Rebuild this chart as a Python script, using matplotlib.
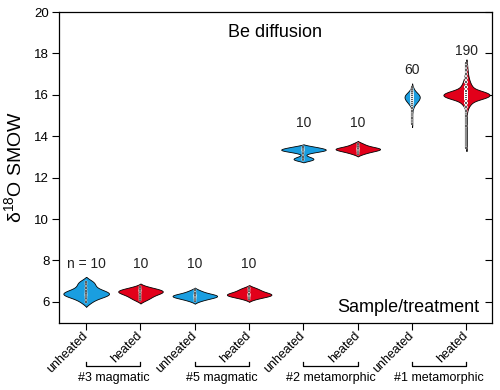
import numpy as np
import matplotlib
matplotlib.use("Agg")
import matplotlib.pyplot as plt
from matplotlib.transforms import ScaledTranslation

plt.rcParams['font.family'] = ['Liberation Sans', 'DejaVu Sans']

# treatment labels along the x axis
tick_labels = ['unheated', 'heated', 'unheated', 'heated',
               'unheated', 'heated', 'unheated', 'heated']
groups = ['#3 magmatic', '#5 magmatic', '#2 metamorphic', '#1 metamorphic']
n_labels = ['n = 10', '10', '10', '10', '10', '10', '60', '190']

# d18O values; the two big samples as (value, count)
m3_unheated = [5.98, 6.2, 6.3, 6.35, 6.4, 6.45, 6.5, 6.65, 6.85, 6.98]
m3_heated = [6.1, 6.2, 6.3, 6.4, 6.45, 6.5, 6.52, 6.55, 6.6, 6.7]
m5_unheated = [6.05, 6.15, 6.2, 6.25, 6.28, 6.3, 6.32, 6.35, 6.45, 6.55]
m5_heated = [6.15, 6.25, 6.3, 6.33, 6.35, 6.38, 6.4, 6.5, 6.6, 6.65]
mt2_unheated = [12.85, 12.9, 13.0, 13.2, 13.3, 13.32, 13.35, 13.38, 13.45, 13.5]
mt2_heated = [13.15, 13.25, 13.3, 13.35, 13.38, 13.4, 13.42, 13.45, 13.55, 13.65]
mt1_unheated_vals = [14.6, 14.9, 15.2, 15.35, 15.5, 15.6, 15.7, 15.8, 15.9,
                     16.0, 16.1, 16.2, 16.3, 16.4]
mt1_unheated_cnt = [1, 1, 1, 2, 3, 5, 7, 9, 10, 9, 6, 3, 2, 1]
mt1_heated_vals = [13.45, 14.5, 15.0, 15.2, 15.4, 15.6, 15.8, 15.9, 16.0,
                   16.1, 16.2, 16.4, 16.6, 16.8, 17.0, 17.2, 17.4, 17.55]
mt1_heated_cnt = [1, 1, 1, 2, 5, 12, 22, 28, 32, 27, 20, 14, 9, 6, 4, 3, 2, 1]

samples = [m3_unheated, m3_heated, m5_unheated, m5_heated,
           mt2_unheated, mt2_heated,
           np.repeat(mt1_unheated_vals, mt1_unheated_cnt),
           np.repeat(mt1_heated_vals, mt1_heated_cnt)]

# styling
BLUE = '#1a9ee0'
RED = '#e2001a'
colors = [BLUE, RED] * 4
bandwidth = [0.16, 0.13, 0.1, 0.11, 0.08, 0.09, 0.11, 0.12]
widths = [0.84, 0.82, 0.82, 0.82, 0.82, 0.82, 0.28, 0.85]
n_label_y = [7.85, 7.85, 7.85, 7.85, 14.65, 14.65, 17.2, 18.1]

fig = plt.figure(figsize=(5, 3.9), dpi=100)
ax = fig.add_axes([0.118, 0.173, 0.866, 0.796])

positions = np.arange(1, 9)
for pos, data, bw, w, c in zip(positions, samples, bandwidth, widths, colors):
    data = np.asarray(data, dtype=float)
    y = np.linspace(data.min() - 1.4 * bw, data.max() + 1.4 * bw, 300)
    dens = np.exp(-0.5 * ((y[:, None] - data[None, :]) / bw) ** 2).sum(axis=1)
    dens = dens - dens[[0, -1]].min()
    dens[dens < 0] = 0
    half = dens / dens.max() * w / 2
    ax.fill_betweenx(y, pos - half, pos + half, facecolor=c,
                     edgecolor='black', linewidth=0.6, zorder=2)
    ax.vlines(pos, data.min(), data.max(), color='#8c8c8c', linewidth=1.6, zorder=3)
    ax.scatter(np.full(len(data), pos), data, s=4, marker='s', color='black',
               edgecolors='white', linewidths=0.3, zorder=4)

for pos, lab, ly in zip(positions, n_labels, n_label_y):
    ax.text(pos, ly, lab, ha='center', va='center', fontsize=10, color='#222222')

ax.text(0.5, 0.935, 'Be diffusion', transform=ax.transAxes, ha='center',
        va='center', fontsize=13)
ax.text(0.97, 0.05, 'Sample/treatment', transform=ax.transAxes, ha='right',
        va='center', fontsize=13)

ax.set_xlim(0.5, 8.47)
ax.set_ylim(5, 20)
ax.set_yticks(np.arange(6, 21, 2))
ax.set_xticks(positions)
ax.set_xticklabels(tick_labels, rotation=45, ha='right', va='center',
                   rotation_mode='anchor', fontsize=9)
shift = ScaledTranslation(4 / 72, 0, fig.dpi_scale_trans)
for lab in ax.get_xticklabels():
    lab.set_transform(lab.get_transform() + shift)
ax.tick_params(axis='x', direction='out', length=5, pad=3)
ax.tick_params(axis='y', which='both', direction='out', length=5,
               labelsize=9.5, pad=2)
ax.tick_params(axis='y', right=True)
for t in ax.yaxis.get_ticklines()[1::2]:
    t.set_marker(0)  # right-side ticks point inward
ax.set_ylabel(r'δ$^{\mathregular{18}}$O SMOW', fontsize=14)
ax.yaxis.set_label_coords(-0.075, 0.5)

for sp in ax.spines.values():
    sp.set_linewidth(0.9)

# brackets grouping the sample pairs
trans = ax.get_xaxis_transform()
for i, g in enumerate(groups):
    x0, x1 = positions[2 * i], positions[2 * i + 1]
    ax.plot([x0, x0, x1, x1], [-0.127, -0.141, -0.141, -0.127], transform=trans,
            color='black', linewidth=0.9, clip_on=False)
    ax.text((x0 + x1) / 2, -0.178, g, transform=trans, ha='center', va='center',
            fontsize=9)

fig.savefig('out.png', dpi=100)
